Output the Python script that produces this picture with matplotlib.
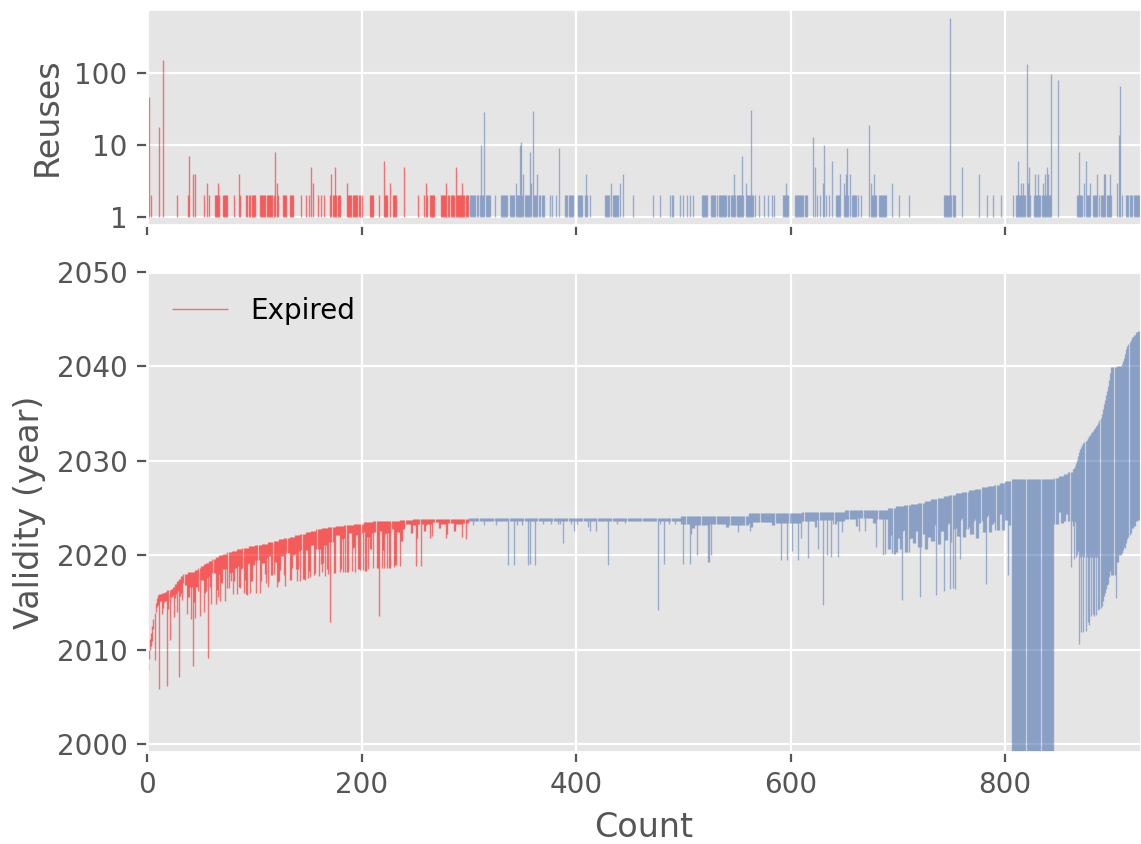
import numpy as np
import matplotlib
matplotlib.use("Agg")
import matplotlib.pyplot as plt
from matplotlib.ticker import FixedLocator, FuncFormatter, NullLocator

plt.style.use("ggplot")

# ---------------- data ----------------
N_EXPIRED = 300

# validity end year, run-length encoded: (count, year)
END_RUNS = [
    (1, 2008.0), (1, 2008.6), (1, 2010.0), (1, 2011.2), (1, 2011.8), (1, 2012.5),
    (1, 2013.3), (1, 2013.9), (1, 2015.0), (1, 2015.5), (1, 2015.8),
    (3, 2015.95), (3, 2016.05), (2, 2016.15), (3, 2016.3), (2, 2016.5), (2, 2016.7),
    (2, 2017.0), (2, 2017.3), (2, 2017.55), (2, 2017.8), (4, 2018.05), (5, 2018.2),
    (2, 2018.3), (3, 2018.45), (2, 2018.65), (3, 2018.85), (2, 2019.05), (3, 2019.25),
    (3, 2019.45), (3, 2019.65), (3, 2019.85), (4, 2020.05), (4, 2020.2), (4, 2020.35),
    (5, 2020.5), (5, 2020.65), (6, 2020.8), (6, 2020.95), (6, 2021.1), (6, 2021.25),
    (5, 2021.4), (5, 2021.55), (5, 2021.7), (5, 2021.85), (5, 2022.0), (5, 2022.15),
    (5, 2022.3), (5, 2022.45), (5, 2022.6), (5, 2022.75), (6, 2022.88), (7, 2023.0),
    (8, 2023.12), (9, 2023.25), (9, 2023.38), (9, 2023.5), (12, 2023.6), (13, 2023.7),
    (12, 2023.78), (13, 2023.84), (39, 2023.9),
    (198, 2024.0), (63, 2024.2), (50, 2024.45), (40, 2024.6), (40, 2024.8),
    (7, 2025.0), (8, 2025.2), (6, 2025.33), (7, 2025.47), (6, 2025.6), (6, 2025.8),
    (6, 2025.93), (6, 2026.1), (5, 2026.28), (6, 2026.45), (6, 2026.6), (6, 2026.75),
    (6, 2026.9), (6, 2027.05), (6, 2027.2), (6, 2027.35), (5, 2027.5), (5, 2027.65),
    (6, 2027.85), (40, 2028.1), (4, 2028.25), (5, 2028.4), (4, 2028.6), (4, 2028.8),
    (1, 2029.1), (1, 2029.3), (1, 2029.5), (1, 2029.8), (1, 2030.1), (1, 2030.5),
    (1, 2031.0), (1, 2031.3), (1, 2031.5), (1, 2031.7),
    (1, 2031.85), (1, 2032.0), (1, 2032.1), (1, 2032.25), (1, 2032.4),
    (1, 2032.6), (1, 2032.8), (1, 2033.0), (1, 2033.1), (1, 2033.2),
    (1, 2033.35), (1, 2033.5), (1, 2033.65), (1, 2033.8),
    (1, 2034.0), (1, 2034.3), (1, 2034.6), (1, 2035.0), (1, 2035.5), (1, 2036.0),
    (1, 2036.5), (1, 2037.0), (1, 2037.4), (1, 2037.9), (1, 2038.6), (1, 2039.3),
    (5, 2039.95), (5, 2040.1),
    (1, 2040.3), (1, 2040.6), (1, 2040.9), (1, 2041.3), (1, 2041.8), (1, 2042.2),
    (1, 2042.4), (1, 2042.6), (1, 2042.8), (2, 2043.1), (2, 2043.3), (2, 2043.6),
    (2, 2043.8),
]

# typical validity length in years, run-length encoded: (count, years)
DUR_RUNS = [
    (11, 1.0),
    (3, 0.8), (2, 1.6), (4, 1.0), (2, 2.0), (3, 0.9), (2, 1.5), (4, 1.1), (2, 1.8), (2, 1.0),
    (3, 1.2), (2, 2.6), (3, 1.5), (2, 3.2), (3, 1.8), (2, 2.4), (4, 1.4), (2, 3.0), (3, 1.6), (2, 2.8),
    (3, 1.5), (2, 3.5), (3, 2.0), (2, 3.0), (4, 1.6), (2, 3.8), (3, 2.2), (2, 3.2), (4, 1.8),
    (2, 4.0), (3, 2.1), (2, 3.4), (4, 1.7), (2, 3.6), (2, 2.0),
    (4, 1.6), (2, 3.8), (3, 2.0), (2, 4.2), (4, 1.5), (3, 3.5), (3, 2.2), (2, 4.4), (4, 1.8),
    (2, 3.9), (3, 1.6), (2, 4.6), (4, 2.0), (3, 3.6), (3, 1.7), (2, 4.8), (4, 1.9), (2, 4.1),
    (3, 1.5), (2, 4.5), (4, 2.1), (3, 3.7), (3, 1.8), (2, 4.3), (4, 1.6), (2, 4.9),
    (4, 1.0), (2, 4.6), (3, 1.4), (2, 5.0), (4, 0.9), (3, 2.5), (3, 1.2), (2, 4.8), (4, 1.0),
    (2, 5.1), (3, 1.5), (2, 2.8), (4, 1.1), (3, 4.9), (3, 1.0), (2, 3.0), (4, 1.3), (2, 5.0),
    (3, 0.9), (2, 4.7), (4, 1.2), (2, 2.2), (2, 1.0),
    (5, 0.5), (2, 1.4), (4, 0.6), (1, 2.0), (5, 0.5), (2, 1.2), (6, 0.6), (1, 1.8), (5, 0.4),
    (2, 1.0), (6, 0.6), (1, 1.6), (5, 0.5), (2, 1.3), (6, 0.6), (1, 1.9), (5, 0.5),
    (198, 0.35),
    (10, 0.9), (3, 1.3), (12, 1.0), (2, 1.5), (15, 0.9), (3, 1.2), (20, 1.0), (2, 1.4),
    (18, 0.9), (3, 1.2), (25, 1.0),
    (12, 0.9), (2, 1.6), (15, 0.8), (3, 1.3), (18, 0.9), (2, 1.7), (14, 0.8), (3, 1.4), (11, 0.9),
    (3, 4.3), (2, 2.8), (4, 4.8), (2, 3.4), (3, 4.5), (2, 2.6), (4, 5.0), (3, 3.6), (3, 4.2),
    (2, 2.9), (4, 4.7), (2, 3.3), (3, 5.1), (3, 3.8), (4, 4.4), (2, 2.7), (3, 4.9), (3, 3.5),
    (4, 4.6), (2, 3.0), (3, 5.0), (3, 3.7), (4, 4.5), (2, 2.8), (3, 4.8), (3, 3.9), (4, 4.6),
    (2, 3.2), (3, 5.2), (3, 3.6), (4, 4.7), (2, 3.1), (3, 4.9), (3, 4.0), (4, 4.8), (2, 3.3),
    (3, 5.0), (3, 4.1), (3, 4.6),
    (40, 33.0),
    (4, 4.9), (2, 3.8), (5, 5.0), (2, 4.2), (4, 5.2),
    (3, 6.0), (3, 10.0),
    (1, 20.4), (1, 11.5), (1, 19.6), (1, 11.8),
    (1, 19.9), (1, 12.2), (1, 20.1), (1, 12.4), (1, 19.4),
    (1, 20.0), (1, 13.0), (1, 19.4), (1, 13.3), (1, 19.4),
    (1, 19.8), (1, 13.7), (1, 19.9), (1, 14.0),
    (1, 19.8), (1, 20.0), (1, 20.2),
    (3, 20.3), (3, 20.5), (3, 20.9), (4, 22.0), (3, 20.8), (3, 20.0),
    (3, 20.0), (3, 20.5), (3, 20.4), (4, 20.2), (4, 20.0),
]

# certificates whose start year lies far below the bulk: (index, start year)
LONG_IDX = [
    0, 1, 2, 3, 4, 5, 6, 7, 11, 14, 19, 21, 25, 28, 30, 33, 37, 41, 43, 45, 49, 53, 57,
    60, 64, 66, 68, 73, 78, 80, 84, 87, 90, 92, 93, 96, 102, 105, 110, 113, 121, 124,
    129, 135, 140, 143, 147, 150, 152, 156, 160, 163, 166, 169, 171, 175, 180, 183,
    187, 191, 194, 199, 201, 206, 211, 216, 219, 221, 224, 230, 236, 251, 255, 264,
    279, 297,
    304, 314, 325, 337, 342, 345, 350, 355, 357, 362, 369, 377, 383, 385, 388, 395,
    398, 401, 411, 413, 419, 430, 438, 446, 476, 478, 482, 487, 492, 500, 506, 507,
    513, 523, 524, 526, 551, 562, 591, 597, 601, 607, 610, 616, 626, 630, 634, 638,
    644, 648, 664, 669, 680, 686, 688, 695, 704, 721, 736, 743, 749, 751, 753, 758,
    782, 803, 861, 864, 903,
]
LONG_START = [
    2007.6, 2007.9, 2009.0, 2010.0, 2010.4, 2011.0, 2012.2, 2008.9, 2005.9, 2013.8,
    2006.2, 2011.1, 2013.5, 2014.0, 2007.1, 2015.3, 2013.8, 2013.25, 2008.25, 2013.4,
    2013.6, 2014.0, 2009.2,
    2014.9, 2014.9, 2015.6, 2015.2, 2015.2, 2017.3, 2015.9, 2015.9, 2016.6, 2016.0,
    2015.9, 2015.8, 2016.0, 2016.0, 2016.0, 2018.0, 2016.7, 2016.7, 2018.5,
    2016.8, 2018.7, 2017.3, 2017.3, 2017.4, 2017.6, 2017.7, 2017.9, 2017.8, 2018.2,
    2017.8, 2018.0, 2013.0, 2018.1, 2018.3, 2018.3,
    2018.3, 2018.4, 2018.3, 2018.5, 2018.5, 2018.6, 2018.7, 2013.6, 2018.7, 2018.7,
    2018.7, 2018.8, 2018.9, 2018.9, 2018.9, 2021.9,
    2021.8, 2021.7,
    2023.2, 2023.2, 2023.2, 2019.0, 2019.0, 2023.2, 2023.2, 2019.0, 2019.1, 2019.0,
    2023.3, 2023.3, 2023.3, 2023.3, 2021.35, 2023.3,
    2022.6, 2023.3, 2023.0, 2022.6, 2022.6, 2019.0, 2023.3, 2023.4, 2014.2, 2023.3,
    2019.1, 2023.3, 2023.3, 2019.1, 2019.1, 2022.3,
    2020.1, 2019.3, 2019.3, 2020.1, 2022.5, 2022.6, 2019.5, 2019.5, 2020.5, 2019.5,
    2021.9, 2019.7, 2020.7, 2014.8, 2020.0, 2019.8,
    2019.8, 2022.5, 2022.6, 2022.6, 2020.9, 2020.0, 2020.2, 2020.3, 2015.3, 2015.6,
    2015.8, 2016.2, 2016.4, 2016.6, 2016.4, 2019.6,
    2017.0, 2017.9, 2018.8, 2019.6, 2015.5,
]

# reuse counts: spans (inclusive) and single items with 2 reuses
REUSE2_SPANS = [
    (63, 65), (71, 75), (92, 93), (95, 96), (98, 101), (105, 110), (112, 118),
    (121, 122), (127, 130), (133, 136), (171, 176), (178, 180), (186, 190),
    (192, 196), (198, 200), (208, 211), (222, 224), (229, 232), (264, 268),
    (274, 279), (281, 286), (288, 293), (295, 299),
    (301, 306), (308, 313), (316, 320), (330, 336), (338, 342), (344, 350),
    (352, 358), (361, 366), (368, 370), (390, 397), (402, 406), (408, 410),
    (427, 431), (434, 439), (488, 490), (517, 522), (526, 531), (533, 540),
    (542, 548), (550, 556), (558, 565), (593, 598), (604, 609), (610, 615),
    (642, 646), (650, 655), (657, 661), (676, 680), (682, 689), (743, 753),
    (810, 816), (817, 823), (827, 834), (836, 843), (867, 872), (874, 879),
    (882, 885), (888, 893), (895, 899), (913, 918), (920, 925),
]
REUSE2_SINGLE = [
    4, 28, 38, 53, 58, 67, 81, 87, 144, 148, 151, 159, 162, 165, 216, 253, 258, 261,
    324, 376, 378, 381, 413, 453, 472, 478, 497, 500, 503, 506, 509, 567, 571, 575,
    579, 583, 585, 625, 627, 633, 636, 663, 666, 701, 710, 783, 789, 796, 807, 909,
]
# larger reuse counts: index and value
REUSE_IDX = [
    2, 11, 15, 39, 43, 45, 56, 66, 86, 119, 121, 153, 155, 172, 175, 186, 221, 227,
    240, 260, 279, 288, 294,
    311, 314, 344, 348, 349, 351, 357, 358, 360, 364, 384, 409, 433, 441, 444, 547,
    555, 558, 563, 596,
    621, 623, 630, 631, 639, 646, 650, 652, 653, 655, 673, 675, 678, 695, 749, 760,
    776, 812, 815, 817, 820, 821, 822, 828, 831, 835, 837, 839, 840, 843, 849, 869,
    874, 875, 879, 886, 892, 893, 898, 904, 906, 907,
]
REUSE_VAL = [
    46, 18, 150, 7, 4, 4, 3, 3, 4, 8, 3, 5, 3, 4, 5, 3, 6, 3,
    5, 3, 3, 5, 3,
    10, 29, 3, 10, 11, 4, 8, 3, 30, 4, 9, 4, 3, 3, 4, 4,
    7, 3, 31, 3,
    13, 5, 3, 10, 6, 4, 3, 4, 9, 4, 19, 3, 4, 3, 575, 5,
    4, 6, 3, 3, 134, 3, 5, 4, 4, 3, 4, 5, 4, 98, 79, 8,
    3, 6, 3, 4, 4, 4, 4, 3, 14, 67,
]

RED = "red"
BLUE = "#4C72B0"

# ---------------- build arrays ----------------
def expand(runs):
    return np.concatenate([np.full(n, v, dtype=float) for n, v in runs])

ends = expand(END_RUNS)
durs = expand(DUR_RUNS)
n = len(ends)
starts = ends - durs[:n]
starts[np.array(LONG_IDX)] = np.array(LONG_START)
x = np.arange(n)

reuses = np.ones(n)
for a, b in REUSE2_SPANS:
    reuses[a:b + 1] = 2
reuses[np.array(REUSE2_SINGLE)] = 2
reuses[np.array(REUSE_IDX)] = np.array(REUSE_VAL, dtype=float)

# ---------------- figure ----------------
W, H = 1141, 844
fig = plt.figure(figsize=(W / 200, H / 200), dpi=200)
L = 147 / W
ax_top = fig.add_axes([L, 1 - 225 / H, 1 - L, (225 - 9) / H])
ax_bot = fig.add_axes([L, 1 - 752 / H, 1 - L, (752 - 272) / H])

lw = 0.5
e = N_EXPIRED
ax_top.vlines(x[:e], 1, reuses[:e], colors=RED, alpha=0.5, linewidth=lw)
ax_top.vlines(x[e:], 1, reuses[e:], colors=BLUE, alpha=0.5, linewidth=lw)
ax_top.set_yscale("log")
ax_top.set_ylim(0.774, 776)
ax_top.yaxis.set_major_locator(FixedLocator([1, 10, 100]))
ax_top.yaxis.set_major_formatter(FuncFormatter(lambda v, p: f"{v:g}"))
ax_top.yaxis.set_minor_locator(NullLocator())
ax_top.set_ylabel("Reuses")

ax_bot.vlines(x[:e], starts[:e], ends[:e], colors=RED, alpha=0.5, linewidth=lw,
              label="Expired")
ax_bot.vlines(x[e:], starts[e:], ends[e:], colors=BLUE, alpha=0.5, linewidth=lw)
ax_bot.set_ylim(1999.2, 2050)
ax_bot.set_yticks([2000, 2010, 2020, 2030, 2040, 2050])
ax_bot.set_ylabel("Validity (year)")
ax_bot.set_xlabel("Count")
ax_bot.legend(loc="upper left", frameon=False)

for ax in (ax_top, ax_bot):
    ax.set_xlim(0, 926.7)
    ax.set_xticks([0, 200, 400, 600, 800])
ax_top.tick_params(labelbottom=False)

fig.savefig("out.png", dpi=200)
